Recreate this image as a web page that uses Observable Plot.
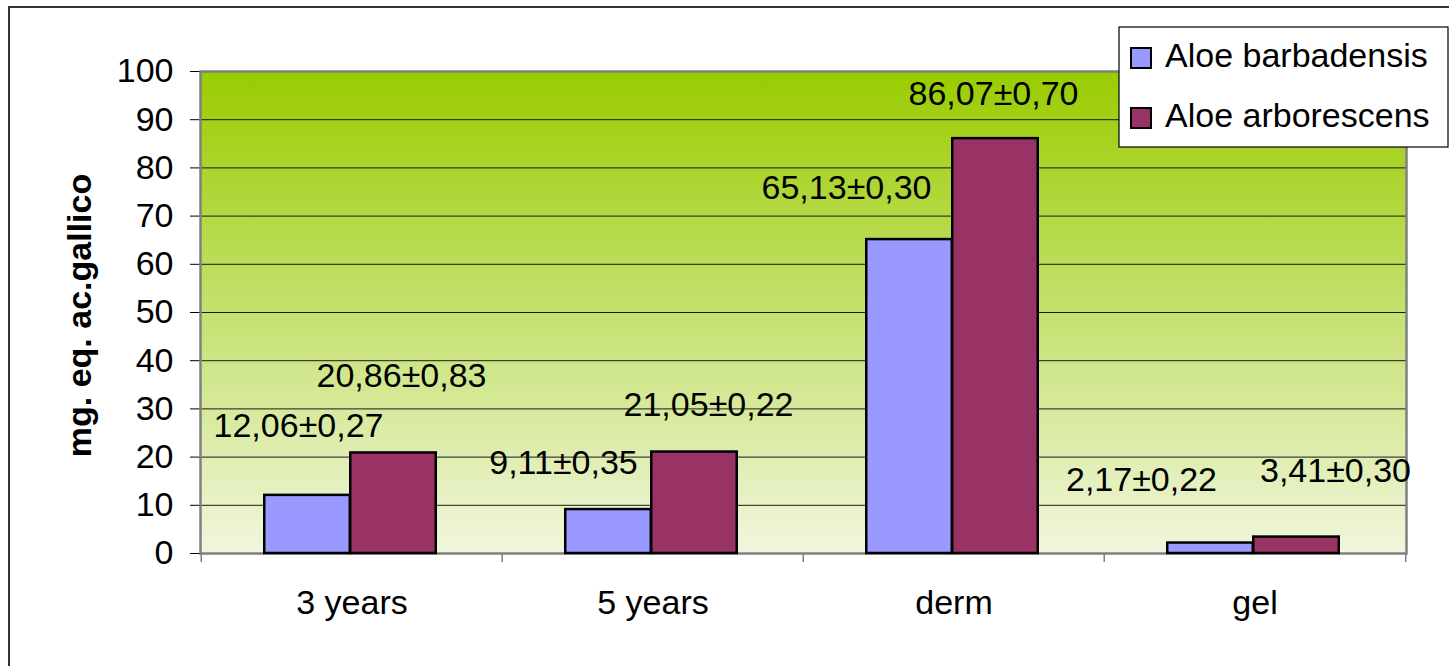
<!DOCTYPE html>
<html>
<head>
<meta charset="utf-8">
<script src="https://cdn.jsdelivr.net/npm/d3@7"></script>
<script src="https://cdn.jsdelivr.net/npm/@observablehq/plot@0.6"></script>
<style>
  html, body { margin: 0; padding: 0; background: #fff; }
  #chart { position: relative; width: 1449px; height: 666px; }
</style>
</head>
<body>
<div id="chart"></div>
<script>
// Polyphenol content (mg eq. gallic acid) of two Aloe species
const categories = ["3 years", "5 years", "derm", "gel"];
const seriesNames = ["Aloe barbadensis", "Aloe arborescens"];
const barbadensis = [12.06, 9.11, 65.13, 2.17];
const barbadensisSd = [0.27, 0.35, 0.30, 0.22];
const arborescens = [20.86, 21.05, 86.07, 3.41];
const arborescensSd = [0.83, 0.22, 0.70, 0.30];
const yTicks = [0, 10, 20, 30, 40, 50, 60, 70, 80, 90, 100];
const yTitle = "mg. eq. ac.gallico";

// layout
const W = 1449, H = 666;
const M = {top: 71, right: 43, bottom: 113, left: 200};
const step = (W - M.left - M.right) / categories.length;
const barW = 86;
const colors = ["#9999FF", "#993366"];
const font = "'Liberation Sans', Arial, sans-serif";
const fs = 34;

// hand-placed label nudges (px) relative to the top centre of each bar
const nudges = [
  [[-9, -69], [-45, -46], [-63, -51], [-69, -63]],
  [[8, -77], [14, -47], [-2, -45], [39, -66]]
];

const fmt = v => v.toFixed(2).replace(".", ",");
const values = [barbadensis, arborescens];
const sds = [barbadensisSd, arborescensSd];
const rows = [];
seriesNames.forEach((s, si) => categories.forEach((c, ci) => rows.push({
  series: s, si, ci, category: c, value: values[si][ci],
  label: fmt(values[si][ci]) + "±" + fmt(sds[si][ci])
})));

const half = step / 2;
const shift = 1.5; // bar pair sits a touch left of the band centre
const barMarks = seriesNames.map((s, si) => Plot.barY(rows.filter(r => r.si === si), {
  x: "category", y: "value", fill: colors[si], stroke: "#000", strokeWidth: 2.5,
  insetLeft: (si === 0 ? half - barW : half) - shift,
  insetRight: (si === 0 ? half : half - barW) + shift
}));

const labelMarks = rows.map(r => Plot.text([r], {
  x: "category", y: "value", text: "label",
  dx: (r.si === 0 ? -barW / 2 : barW / 2) - shift + nudges[r.si][r.ci][0],
  dy: nudges[r.si][r.ci][1],
  fontSize: fs, lineAnchor: "middle", textAnchor: "middle", fill: "#000"
}));

const plotH = H - M.top - M.bottom;

const chart = Plot.plot({
  width: W, height: H,
  marginTop: M.top, marginRight: M.right, marginBottom: M.bottom, marginLeft: M.left,
  style: {fontFamily: font, fontSize: fs + "px", background: "transparent", overflow: "visible", color: "#000"},
  x: {domain: categories, padding: 0, tickSize: 0, tickPadding: 36, label: null},
  y: {domain: [0, 100], ticks: yTicks, tickSize: 10, tickPadding: 17, label: null},
  marks: [
    Plot.frame({fill: "url(#plotBg)", stroke: "none"}),
    Plot.ruleY(yTicks.filter(t => t > 0 && t < 100), {stroke: "#1a1a1a", strokeWidth: 1}),
    Plot.frame({stroke: "#808080", strokeWidth: 2.5}),
    // category boundary ticks below the baseline
    Plot.ruleX(categories, {x: d => d, dx: -half, stroke: "#808080", strokeWidth: 1.5, insetTop: plotH, insetBottom: -9}),
    Plot.ruleX(categories.slice(-1), {x: d => d, dx: half, stroke: "#808080", strokeWidth: 1.5, insetTop: plotH, insetBottom: -9}),
    ...barMarks,
    ...labelMarks,
    Plot.text([yTitle], {frameAnchor: "left", dx: -120, dy: 3, rotate: -90, fontWeight: "bold", fontSize: fs, textAnchor: "middle", lineAnchor: "middle"})
  ]
});

document.getElementById("chart").appendChild(chart);

const svg = d3.select(chart);
const grad = svg.insert("defs", ":first-child").append("linearGradient")
  .attr("id", "plotBg").attr("x1", 0).attr("y1", 0).attr("x2", 0).attr("y2", 1);
grad.append("stop").attr("offset", "0%").attr("stop-color", "#99CC00");
grad.append("stop").attr("offset", "100%").attr("stop-color", "#F1F6DE");

// outer chart-area border (left and top edges visible)
svg.append("path").attr("d", `M9,${H} V7 H${W}`).attr("fill", "none")
  .attr("stroke", "#333").attr("stroke-width", 2);

// legend
const lg = svg.append("g").attr("transform", "translate(1119,27)");
lg.append("rect").attr("x", 0).attr("y", 0).attr("width", 329).attr("height", 120)
  .attr("fill", "#fff").attr("stroke", "#000").attr("stroke-width", 1.2);
seriesNames.forEach((s, i) => {
  const y = 21 + i * 60;
  lg.append("rect").attr("x", 12).attr("y", y).attr("width", 20).attr("height", 20)
    .attr("fill", colors[i]).attr("stroke", "#000").attr("stroke-width", 2);
  lg.append("text").attr("x", 46).attr("y", y + 19).attr("font-size", fs)
    .attr("font-family", font).attr("text-anchor", "start").attr("fill", "#000").text(s);
});
</script>
</body>
</html>
